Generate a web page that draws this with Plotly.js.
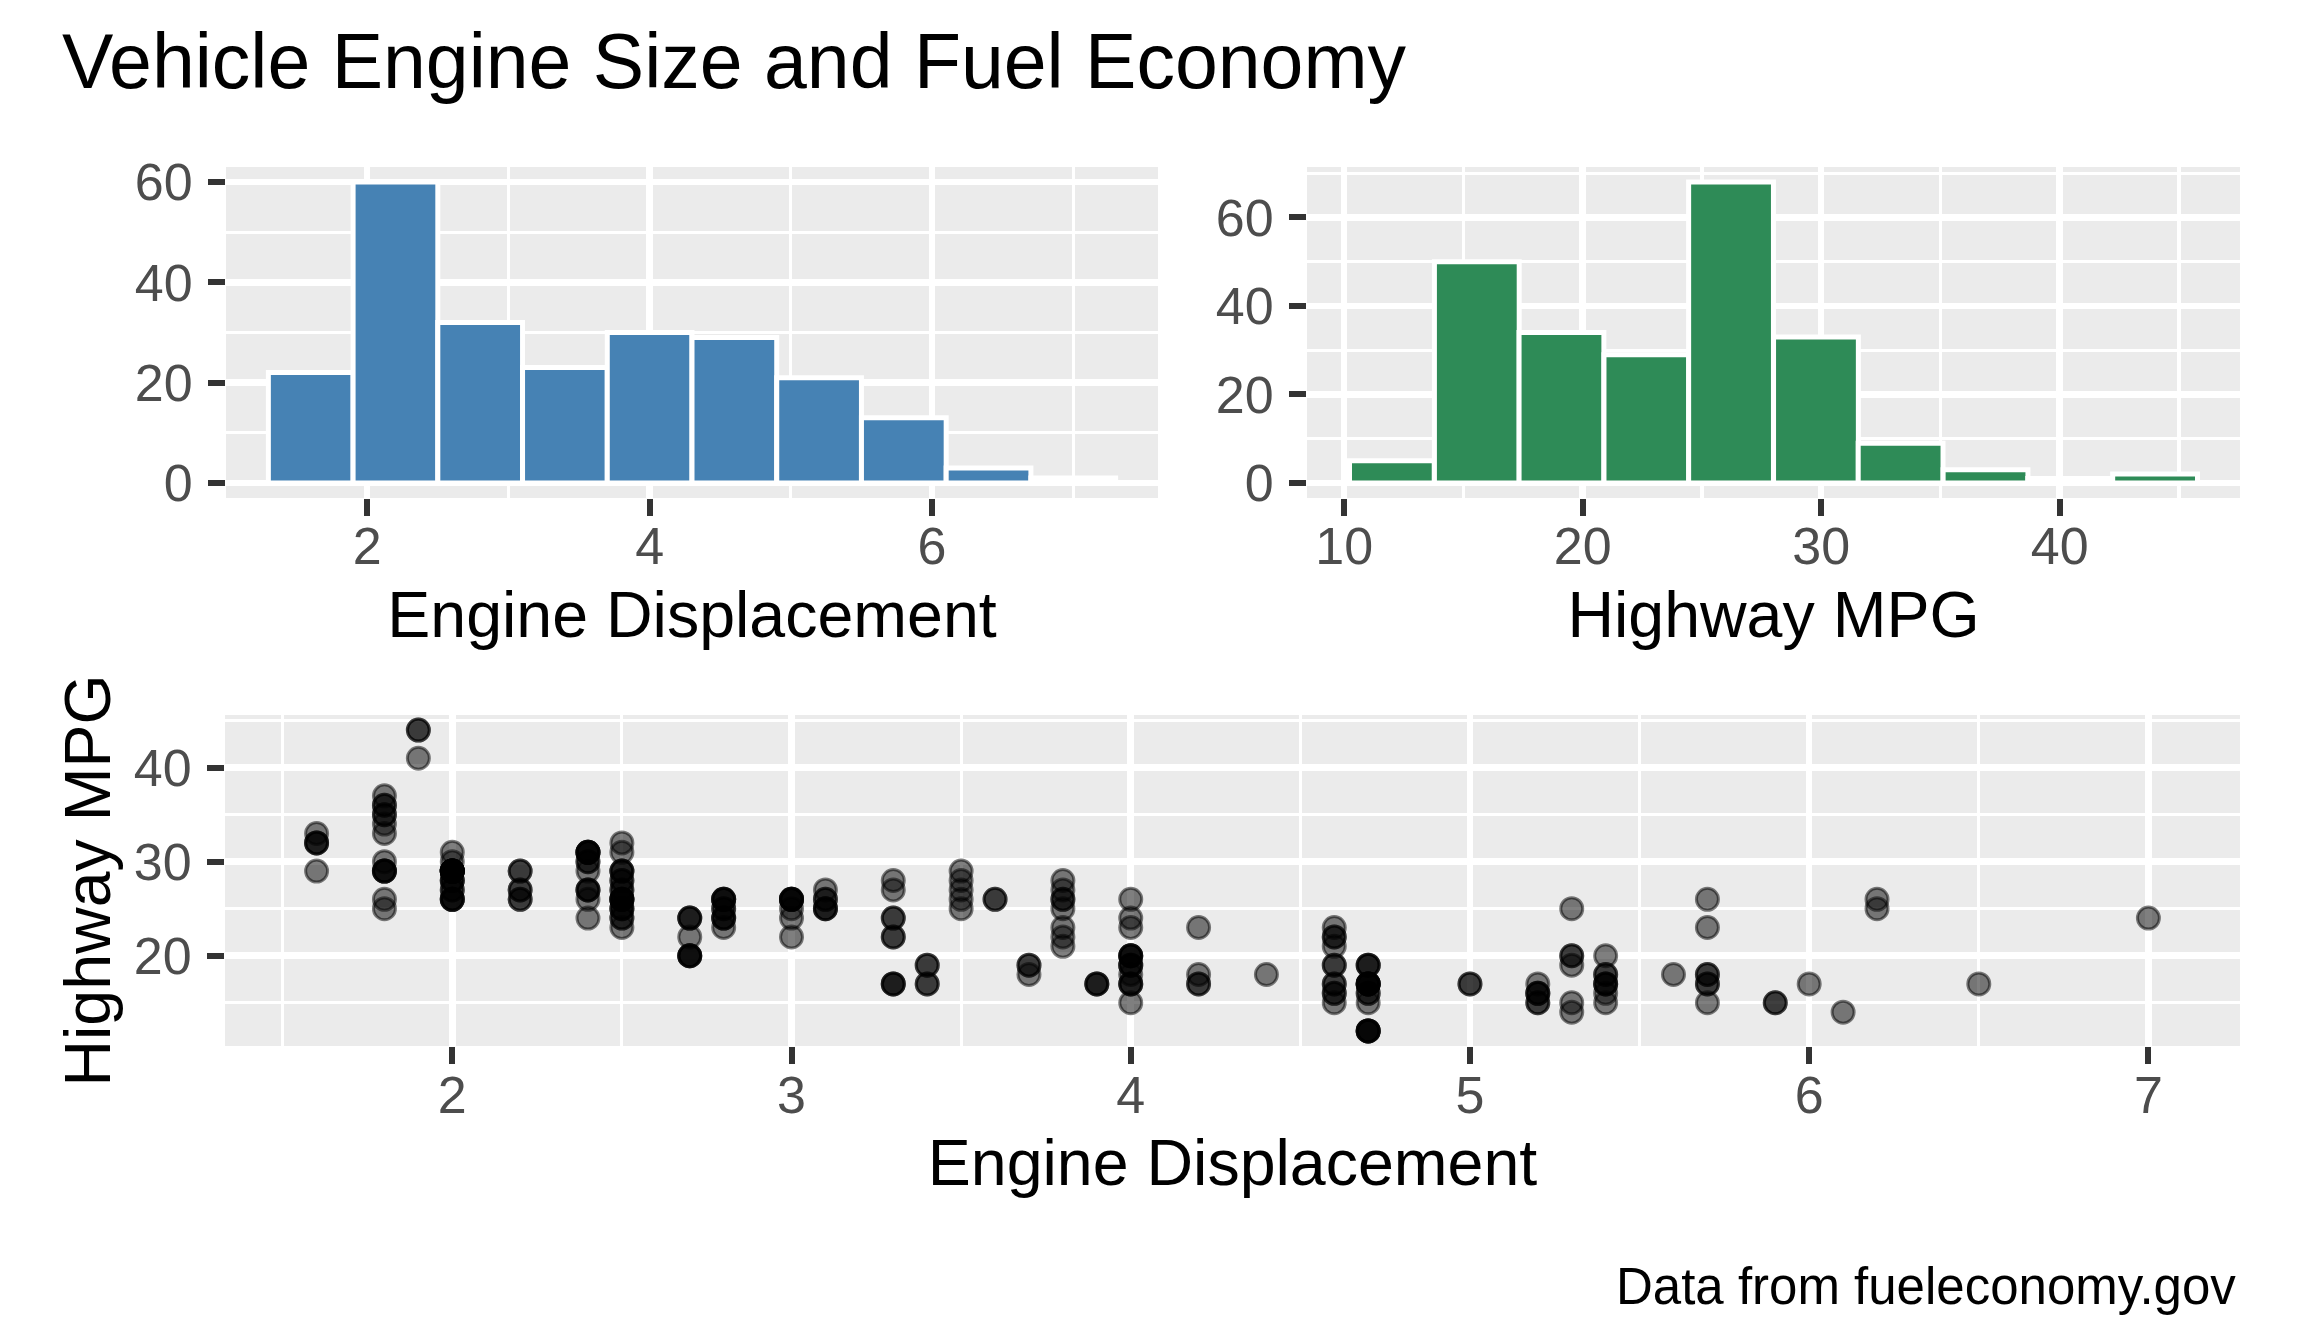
<!DOCTYPE html>
<html>
<head>
<meta charset="utf-8">
<script src="https://cdn.plot.ly/plotly-3.0.1.min.js"></script>
<style>
  html, body { margin: 0; padding: 0; background: #fff; }
  #chart { width: 2304px; height: 1344px; }
</style>
</head>
<body>
<div id="chart"></div>
<script>
// engine displacement histogram (bin centres and counts)
const displBins = [1.6, 2.2, 2.8, 3.4, 4.0, 4.6, 5.2, 5.8, 6.4, 7.0]
const displCounts = [22, 60, 32, 23, 30, 29, 21, 13, 3, 1]
const displBinWidth = 0.6

// highway mpg histogram
const hwyBins = [12, 15.56, 19.11, 22.67, 26.22, 29.78, 33.33, 36.89, 40.44, 44]
const hwyCounts = [5, 50, 34, 29, 68, 33, 9, 3, 1, 2]
const hwyBinWidth = 3.556

// one entry per vehicle
const carDispl = [
  1.8, 1.8, 2.0, 2.0, 2.8, 2.8, 3.1, 1.8, 1.8, 2.0, 2.0, 2.8, 2.8, 3.1, 3.1, 2.8, 3.1, 4.2,
  5.3, 5.3, 5.3, 5.7, 6.0, 5.7, 5.7, 6.2, 6.2, 7.0, 5.3, 5.3, 5.7, 6.5, 2.4, 2.4, 3.1, 3.5, 3.6,
  2.4, 3.0, 3.3, 3.3, 3.3, 3.3, 3.3, 3.8, 3.8, 3.8, 4.0,
  3.7, 3.7, 3.9, 3.9, 4.7, 4.7, 4.7, 5.2, 5.2,
  3.9, 4.7, 4.7, 4.7, 5.2, 5.2, 5.9,
  4.7, 4.7, 4.7, 4.7, 4.7, 4.7, 5.2, 5.2, 5.7, 5.9,
  4.6, 5.4, 5.4, 4.0, 4.0, 4.0, 4.0, 4.6, 5.0, 4.2, 4.2, 4.6, 4.6, 4.6, 5.4, 5.4,
  3.8, 3.8, 4.0, 4.0, 4.6, 4.6, 4.6, 4.6, 5.4,
  1.6, 1.6, 1.6, 1.6, 1.6, 1.8, 1.8, 1.8, 2.0,
  2.4, 2.4, 2.4, 2.4, 2.5, 2.5, 3.3, 2.0, 2.0, 2.0, 2.0, 2.7, 2.7, 2.7,
  3.0, 3.7, 4.0, 4.7, 4.7, 4.7, 5.7, 6.1,
  4.0, 4.2, 4.4, 4.6, 5.4, 5.4, 5.4, 4.0, 4.0, 4.6, 5.0,
  2.4, 2.4, 2.5, 2.5, 3.5, 3.5, 3.0, 3.0, 3.5, 3.3, 3.3, 4.0, 5.6,
  3.1, 3.8, 3.8, 3.8, 5.3,
  2.5, 2.5, 2.5, 2.5, 2.5, 2.5, 2.2, 2.2, 2.5, 2.5, 2.5, 2.5, 2.5, 2.5,
  2.7, 2.7, 3.4, 3.4, 4.0, 4.7, 2.2, 2.2, 2.4, 2.4, 3.0, 3.0, 3.5,
  2.2, 2.2, 2.4, 2.4, 3.0, 3.0, 3.3, 1.8, 1.8, 1.8, 1.8, 1.8, 4.7, 5.7,
  2.7, 2.7, 2.7, 3.4, 3.4, 4.0, 4.0,
  2.0, 2.0, 2.0, 2.0, 2.8, 1.9, 2.0, 2.0, 2.0, 2.0, 2.5, 2.5, 2.8, 2.8,
  1.9, 1.9, 2.0, 2.0, 2.5, 2.5, 1.8, 1.8, 2.0, 2.0, 2.8, 2.8, 3.6
]
const carHwy = [
  29, 29, 31, 30, 26, 26, 27, 26, 25, 28, 27, 25, 25, 25, 25, 24, 25, 23,
  20, 15, 20, 17, 17, 26, 23, 26, 25, 24, 19, 14, 15, 17, 27, 30, 26, 29, 26,
  24, 24, 22, 22, 24, 24, 17, 22, 21, 23, 23,
  19, 18, 17, 17, 19, 19, 12, 17, 15,
  17, 17, 12, 17, 16, 16, 15,
  16, 12, 17, 17, 16, 12, 15, 16, 17, 15,
  17, 17, 18, 17, 19, 17, 19, 19, 17, 17, 17, 16, 16, 17, 15, 17,
  26, 25, 26, 24, 21, 22, 23, 22, 20,
  33, 32, 32, 29, 32, 34, 36, 36, 29,
  26, 27, 30, 31, 26, 26, 28, 26, 29, 28, 27, 24, 24, 24,
  22, 19, 20, 17, 12, 19, 18, 14,
  15, 18, 18, 15, 17, 16, 18, 17, 19, 19, 17,
  29, 27, 31, 32, 27, 26, 26, 25, 25, 17, 17, 20, 18,
  26, 26, 27, 28, 25,
  25, 24, 27, 25, 26, 23, 26, 26, 26, 26, 28, 27, 24, 25,
  20, 20, 19, 17, 20, 17, 29, 27, 31, 31, 26, 26, 28,
  27, 29, 31, 31, 26, 26, 27, 30, 33, 35, 37, 35, 15, 18,
  20, 20, 22, 17, 19, 18, 20,
  29, 26, 29, 29, 24, 44, 29, 26, 29, 29, 29, 29, 23, 24,
  44, 41, 29, 26, 28, 29, 29, 29, 28, 29, 26, 26, 26
]

const W = 2304
const H = 1344
const fontFamily = 'Liberation Sans, Arial, sans-serif'
const titleFont = { family: fontFamily, size: 64.5, color: '#000000' }

// panel boxes in pixels, turned into paper fractions
function xDom (left, right) { return [left / W, right / W] }
function yDom (top, bottom) { return [1 - bottom / H, 1 - top / H] }

function axisStyle () {
  return {
    showgrid: true,
    gridcolor: '#FFFFFF',
    gridwidth: 6.5,
    zeroline: false,
    showline: false,
    ticks: 'outside',
    ticklen: 17,
    tickwidth: 6,
    tickcolor: '#333333',
    tickfont: { family: fontFamily, size: 52, color: '#4D4D4D' },
    minor: { showgrid: true, gridcolor: '#FFFFFF', gridwidth: 3.2 },
    fixedrange: true
  }
}

const traces = [{
  type: 'bar',
  x: displBins,
  y: displCounts,
  width: displBinWidth,
  marker: { color: '#4682B4', line: { color: '#FFFFFF', width: 5 } },
  xaxis: 'x',
  yaxis: 'y',
  hoverinfo: 'skip'
}, {
  type: 'bar',
  x: hwyBins,
  y: hwyCounts,
  width: hwyBinWidth,
  marker: { color: '#2E8B57', line: { color: '#FFFFFF', width: 5 } },
  xaxis: 'x2',
  yaxis: 'y2',
  hoverinfo: 'skip'
}, {
  type: 'scatter',
  mode: 'markers',
  x: carDispl,
  y: carHwy,
  marker: {
    size: 22,
    color: 'rgba(0,0,0,0.5)',
    line: { color: 'rgba(0,0,0,0.5)', width: 3 }
  },
  xaxis: 'x3',
  yaxis: 'y3',
  hoverinfo: 'skip',
  cliponaxis: false
}]

const layout = {
  width: W,
  height: H,
  margin: { l: 0, r: 0, t: 0, b: 0 },
  paper_bgcolor: '#FFFFFF',
  plot_bgcolor: '#EBEBEB',
  showlegend: false,
  bargap: 0,
  font: { family: fontFamily, color: '#000000' },
  title: {
    text: 'Vehicle Engine Size and Fuel Economy',
    font: { family: fontFamily, size: 77, color: '#000000' },
    xref: 'paper',
    yref: 'paper',
    x: 62 / W,
    xanchor: 'left',
    y: 1 - 61 / H,
    yanchor: 'middle'
  },
  xaxis: Object.assign(axisStyle(), {
    domain: xDom(226, 1158),
    anchor: 'y',
    range: [1.0, 7.6],
    tick0: 0,
    dtick: 2,
    minor: Object.assign(axisStyle().minor, { tick0: 0, dtick: 1 }),
    ticklabelstandoff: -14,
    title: { text: 'Engine Displacement', font: titleFont, standoff: 17 }
  }),
  yaxis: Object.assign(axisStyle(), {
    domain: yDom(167, 498),
    anchor: 'x',
    range: [-3, 63],
    tick0: 0,
    dtick: 20,
    minor: Object.assign(axisStyle().minor, { tick0: 0, dtick: 10 }),
    ticklabelstandoff: 5
  }),
  xaxis2: Object.assign(axisStyle(), {
    domain: xDom(1307, 2240),
    anchor: 'y2',
    range: [8.44, 47.56],
    tick0: 0,
    dtick: 10,
    minor: Object.assign(axisStyle().minor, { tick0: 5, dtick: 10 }),
    ticklabelstandoff: -14,
    title: { text: 'Highway MPG', font: titleFont, standoff: 17 }
  }),
  yaxis2: Object.assign(axisStyle(), {
    domain: yDom(167, 498),
    anchor: 'x2',
    range: [-3.4, 71.4],
    tick0: 0,
    dtick: 20,
    minor: Object.assign(axisStyle().minor, { tick0: 0, dtick: 10 }),
    ticklabelstandoff: 5
  }),
  xaxis3: Object.assign(axisStyle(), {
    domain: xDom(225, 2240),
    anchor: 'y3',
    range: [1.33, 7.27],
    tick0: 0,
    dtick: 1,
    minor: Object.assign(axisStyle().minor, { tick0: 0.5, dtick: 1 }),
    ticklabelstandoff: -13,
    title: { text: 'Engine Displacement', font: titleFont, standoff: 16 }
  }),
  yaxis3: Object.assign(axisStyle(), {
    domain: yDom(715, 1046),
    anchor: 'x3',
    range: [10.4, 45.6],
    tick0: 0,
    dtick: 10,
    minor: Object.assign(axisStyle().minor, { tick0: 5, dtick: 10 }),
    ticklabelstandoff: 5,
    title: { text: 'Highway MPG', font: titleFont, standoff: 2 }
  }),
  annotations: [{
    text: 'Data from fueleconomy.gov',
    xref: 'paper',
    yref: 'paper',
    x: 2238 / W,
    xanchor: 'right',
    y: 1 - 1286 / H,
    yanchor: 'middle',
    showarrow: false,
    font: { family: fontFamily, size: 51, color: '#000000' }
  }]
}

Plotly.newPlot('chart', traces, layout, { displayModeBar: false, staticPlot: true })
</script>
</body>
</html>
